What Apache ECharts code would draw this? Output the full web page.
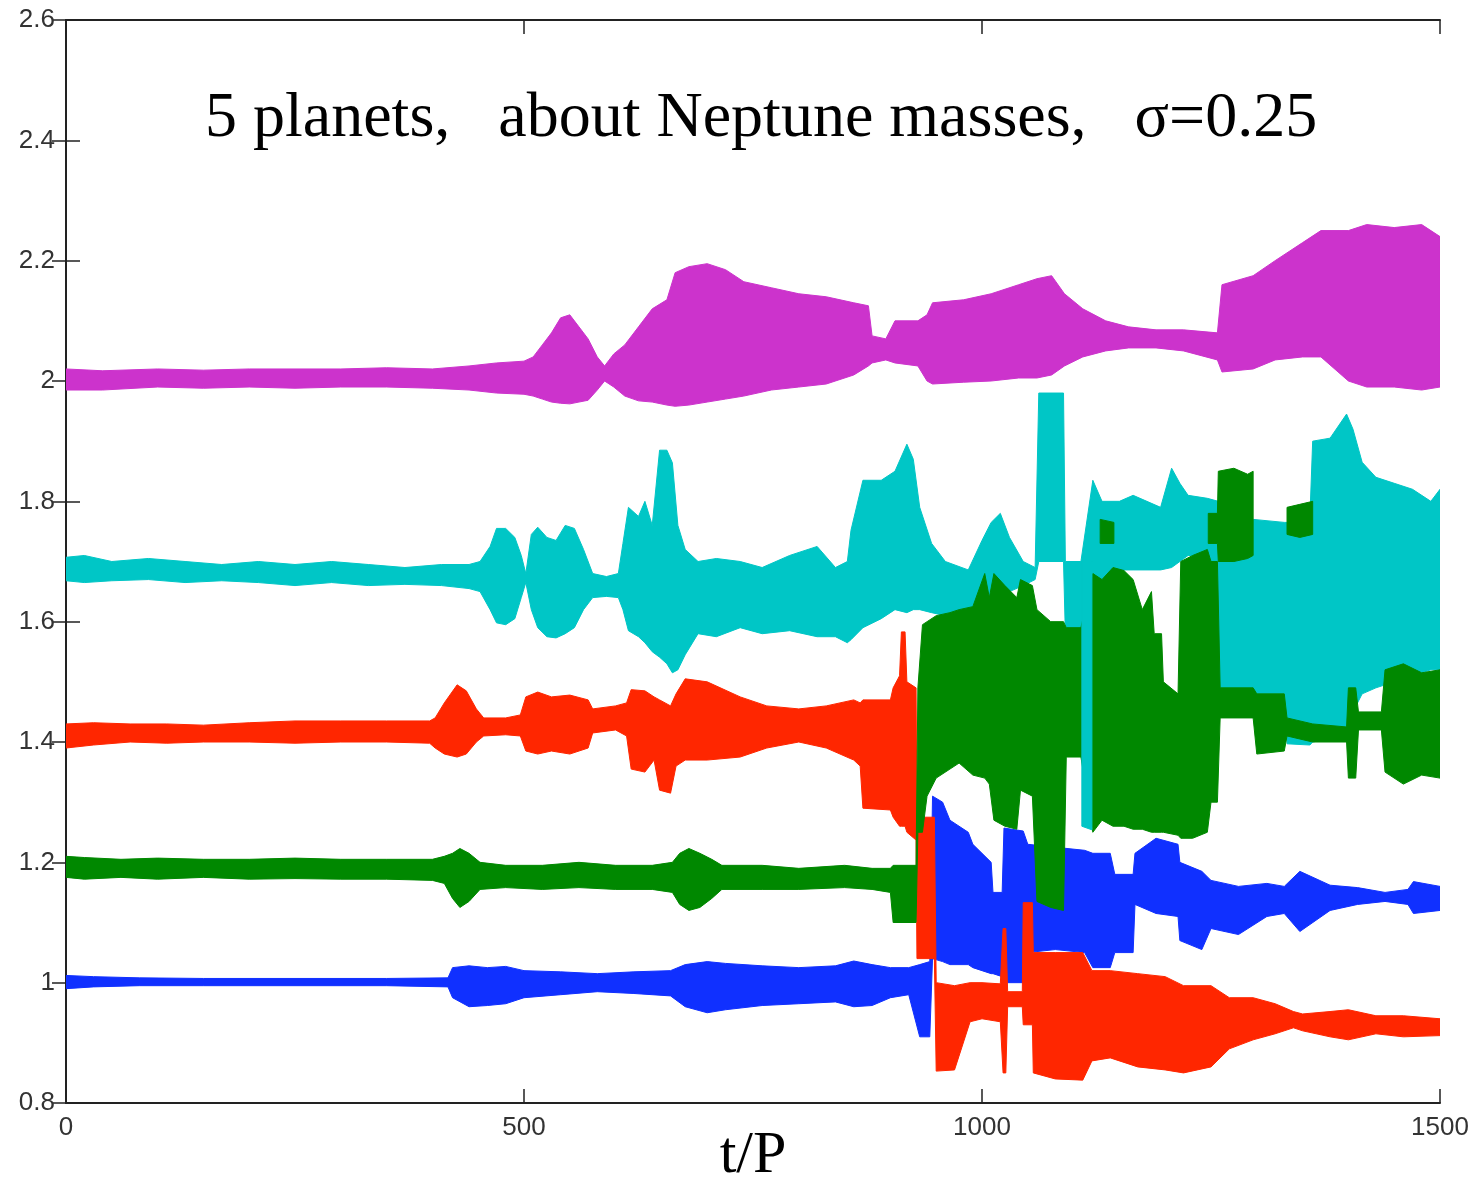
<!DOCTYPE html>
<html>
<head>
<meta charset="utf-8">
<script src="https://cdn.jsdelivr.net/npm/echarts@6/dist/echarts.min.js"></script>
<style>
  html, body { margin: 0; padding: 0; background: #ffffff; }
  #chart { width: 1482px; height: 1180px; }
</style>
</head>
<body>
<div id="chart"></div>
<script>
// Axis ticks
const xTickValues = [0, 500, 1000, 1500];
const yTickLabels = ['0.8', '1', '1.2', '1.4', '1.6', '1.8', '2', '2.2', '2.4', '2.6'];

// Oscillation envelopes of the period ratio of each planet: [t/P, lower, upper]
const purpleBand = [
  [0, 1.985, 2.02], [40, 1.985, 2.017], [100, 1.99, 2.02], [150, 1.988, 2.018], [200, 1.99, 2.02],
  [250, 1.988, 2.02], [300, 1.99, 2.02], [350, 1.99, 2.022], [400, 1.988, 2.02], [440, 1.985, 2.025],
  [470, 1.98, 2.03], [500, 1.978, 2.033], [510, 1.975, 2.04], [520, 1.97, 2.06], [530, 1.965, 2.08],
  [540, 1.963, 2.105], [550, 1.962, 2.11], [560, 1.965, 2.09], [570, 1.968, 2.07], [580, 1.985, 2.04],
  [588, 2.0, 2.025], [598, 1.99, 2.045], [610, 1.975, 2.06], [625, 1.967, 2.09], [640, 1.965, 2.12],
  [656, 1.96, 2.135], [665, 1.958, 2.18], [680, 1.96, 2.19], [700, 1.965, 2.195], [720, 1.97, 2.185],
  [740, 1.975, 2.165], [770, 1.985, 2.155], [800, 1.99, 2.145], [830, 1.995, 2.14], [860, 2.01, 2.13],
  [876, 2.025, 2.125], [880, 2.03, 2.075], [895, 2.035, 2.07], [905, 2.03, 2.1], [930, 2.025, 2.1],
  [940, 2.0, 2.11], [946, 1.995, 2.13], [980, 1.998, 2.135], [1010, 2.0, 2.145], [1040, 2.005, 2.16],
  [1060, 2.005, 2.17], [1076, 2.01, 2.175], [1090, 2.025, 2.145], [1110, 2.04, 2.12], [1135, 2.05, 2.1],
  [1160, 2.055, 2.09], [1190, 2.055, 2.085], [1220, 2.05, 2.085], [1257, 2.035, 2.08], [1262, 2.015, 2.16],
  [1296, 2.02, 2.175], [1320, 2.035, 2.2], [1350, 2.04, 2.23], [1370, 2.04, 2.25], [1400, 2.0, 2.25],
  [1420, 1.99, 2.26], [1450, 1.99, 2.255], [1480, 1.985, 2.26], [1500, 1.99, 2.24]
];

const cyanBand = [
  [0, 1.668, 1.707], [20, 1.665, 1.71], [50, 1.668, 1.7], [90, 1.67, 1.705], [130, 1.665, 1.7],
  [170, 1.668, 1.695], [210, 1.665, 1.7], [250, 1.66, 1.695], [290, 1.665, 1.7], [330, 1.66, 1.695],
  [370, 1.662, 1.69], [410, 1.66, 1.695], [440, 1.655, 1.695], [452, 1.65, 1.7], [463, 1.62, 1.725],
  [470, 1.598, 1.755], [480, 1.595, 1.755], [490, 1.605, 1.74], [497, 1.64, 1.71], [502, 1.665, 1.68],
  [508, 1.62, 1.745], [515, 1.59, 1.757], [525, 1.575, 1.74], [535, 1.573, 1.735], [545, 1.58, 1.76],
  [555, 1.59, 1.755], [565, 1.62, 1.72], [575, 1.64, 1.68], [590, 1.642, 1.675], [603, 1.64, 1.68],
  [608, 1.62, 1.73], [614, 1.585, 1.79], [625, 1.575, 1.775], [632, 1.565, 1.8], [640, 1.55, 1.76],
  [648, 1.541, 1.885], [656, 1.53, 1.885], [662, 1.515, 1.864], [668, 1.52, 1.76], [676, 1.545, 1.72],
  [690, 1.58, 1.7], [710, 1.575, 1.705], [736, 1.59, 1.7], [760, 1.58, 1.69], [790, 1.585, 1.71],
  [820, 1.575, 1.725], [840, 1.575, 1.69], [853, 1.565, 1.7], [857, 1.57, 1.752], [870, 1.59, 1.835],
  [890, 1.605, 1.835], [905, 1.62, 1.85], [918, 1.615, 1.895], [925, 1.62, 1.87], [932, 1.62, 1.79],
  [945, 1.615, 1.73], [960, 1.61, 1.7], [985, 1.62, 1.686], [1000, 1.63, 1.735], [1010, 1.64, 1.765],
  [1020, 1.645, 1.78], [1030, 1.65, 1.74], [1045, 1.66, 1.7], [1058, 1.67, 1.69], [1062, 1.7, 1.98],
  [1089, 1.7, 1.98], [1091, 1.58, 1.7], [1108, 1.58, 1.7], [1121, 1.66, 1.835], [1131, 1.67, 1.8],
  [1150, 1.686, 1.8], [1165, 1.686, 1.81], [1195, 1.686, 1.79], [1207, 1.69, 1.855], [1216, 1.7, 1.83],
  [1225, 1.71, 1.81], [1246, 1.71, 1.805], [1258, 1.49, 1.8], [1296, 1.48, 1.77], [1330, 1.48, 1.765],
  [1333, 1.397, 1.765], [1358, 1.395, 1.775], [1361, 1.4, 1.9], [1380, 1.405, 1.905], [1398, 1.41, 1.945],
  [1405, 1.45, 1.92], [1415, 1.48, 1.865], [1430, 1.49, 1.84], [1450, 1.5, 1.83], [1470, 1.51, 1.82],
  [1490, 1.52, 1.8], [1500, 1.52, 1.82]
];

const blueBand = [
  [0, 0.99, 1.012], [30, 0.993, 1.01], [80, 0.995, 1.008], [150, 0.995, 1.007], [250, 0.995, 1.007],
  [350, 0.995, 1.007], [417, 0.993, 1.008], [422, 0.975, 1.025], [440, 0.96, 1.028], [460, 0.962, 1.025],
  [480, 0.965, 1.027], [500, 0.975, 1.02], [540, 0.98, 1.018], [580, 0.985, 1.015], [620, 0.982, 1.018],
  [660, 0.978, 1.02], [676, 0.96, 1.03], [700, 0.95, 1.035], [720, 0.955, 1.032], [760, 0.962, 1.028],
  [800, 0.965, 1.025], [840, 0.968, 1.028], [860, 0.96, 1.036], [880, 0.962, 1.03], [900, 0.975, 1.025],
  [920, 0.98, 1.025], [932, 0.91, 1.03], [943, 0.91, 1.035], [946, 1.04, 1.31], [957, 1.035, 1.3],
  [965, 1.03, 1.27], [985, 1.03, 1.25], [990, 1.025, 1.23], [1010, 1.015, 1.2], [1012, 1.015, 1.15],
  [1022, 1.01, 1.15], [1024, 1.0, 1.257], [1045, 1.0, 1.252], [1050, 1.05, 1.23], [1080, 1.055, 1.225],
  [1112, 1.05, 1.22], [1121, 1.025, 1.215], [1140, 1.025, 1.215], [1145, 1.05, 1.18], [1165, 1.05, 1.18],
  [1167, 1.13, 1.215], [1190, 1.115, 1.24], [1214, 1.11, 1.23], [1216, 1.07, 1.2], [1240, 1.055, 1.185],
  [1250, 1.09, 1.17], [1280, 1.08, 1.16], [1311, 1.11, 1.165], [1330, 1.115, 1.16], [1347, 1.085, 1.185],
  [1380, 1.12, 1.162], [1410, 1.13, 1.158], [1440, 1.135, 1.15], [1465, 1.13, 1.155], [1471, 1.115, 1.168],
  [1500, 1.12, 1.16]
];

const redBand = [
  [0, 1.39, 1.43], [30, 1.395, 1.432], [70, 1.4, 1.43], [110, 1.398, 1.43], [150, 1.4, 1.428],
  [200, 1.4, 1.432], [250, 1.398, 1.435], [300, 1.4, 1.435], [350, 1.4, 1.435], [397, 1.398, 1.435],
  [403, 1.39, 1.44], [413, 1.38, 1.465], [427, 1.375, 1.495], [437, 1.38, 1.485], [448, 1.4, 1.455],
  [456, 1.41, 1.44], [480, 1.412, 1.44], [496, 1.41, 1.445], [502, 1.385, 1.475], [515, 1.38, 1.483],
  [530, 1.385, 1.475], [550, 1.38, 1.478], [570, 1.39, 1.47], [575, 1.415, 1.455], [600, 1.42, 1.46],
  [612, 1.41, 1.465], [617, 1.355, 1.487], [632, 1.35, 1.485], [642, 1.37, 1.475], [648, 1.32, 1.47],
  [660, 1.315, 1.46], [666, 1.36, 1.48], [676, 1.37, 1.505], [700, 1.37, 1.5], [736, 1.375, 1.475],
  [765, 1.39, 1.46], [800, 1.4, 1.455], [830, 1.39, 1.46], [860, 1.37, 1.47], [867, 1.36, 1.465],
  [870, 1.29, 1.47], [900, 1.287, 1.47], [903, 1.275, 1.49], [910, 1.26, 1.51], [912, 1.26, 1.583],
  [916, 1.26, 1.583], [918, 1.25, 1.5], [928, 1.237, 1.49], [929, 1.04, 1.275], [948, 1.04, 1.275],
  [950, 0.853, 1.0], [970, 0.855, 0.995], [987, 0.935, 1.0], [1000, 0.94, 1.0], [1020, 0.935, 0.998],
  [1023, 0.85, 1.09], [1026, 0.85, 1.09], [1028, 0.96, 0.985], [1044, 0.96, 0.985], [1045, 0.93, 1.133],
  [1055, 0.93, 1.133], [1056, 0.85, 1.05], [1080, 0.84, 1.05], [1110, 0.838, 1.05], [1120, 0.87, 1.02],
  [1140, 0.875, 1.02], [1170, 0.86, 1.015], [1200, 0.855, 1.01], [1220, 0.85, 0.995], [1250, 0.86, 0.995],
  [1270, 0.89, 0.975], [1296, 0.905, 0.975], [1320, 0.915, 0.965], [1340, 0.925, 0.952], [1350, 0.92, 0.948],
  [1380, 0.91, 0.952], [1400, 0.905, 0.955], [1430, 0.915, 0.945], [1460, 0.91, 0.945], [1500, 0.912, 0.94]
];

const greenBand = [
  [0, 1.175, 1.21], [20, 1.172, 1.208], [60, 1.175, 1.205], [100, 1.172, 1.207], [150, 1.175, 1.205],
  [200, 1.172, 1.205], [250, 1.173, 1.207], [300, 1.172, 1.205], [350, 1.172, 1.205], [400, 1.17, 1.205],
  [413, 1.165, 1.21], [422, 1.14, 1.215], [430, 1.125, 1.223], [440, 1.135, 1.215], [452, 1.155, 1.2],
  [480, 1.158, 1.195], [520, 1.155, 1.195], [560, 1.158, 1.2], [600, 1.155, 1.195], [640, 1.155, 1.195],
  [662, 1.15, 1.2], [670, 1.13, 1.215], [680, 1.12, 1.223], [692, 1.125, 1.215], [705, 1.14, 1.205],
  [716, 1.155, 1.195], [760, 1.155, 1.195], [800, 1.155, 1.19], [850, 1.158, 1.195], [880, 1.155, 1.19],
  [900, 1.15, 1.19], [903, 1.1, 1.195], [928, 1.1, 1.195], [930, 1.25, 1.49], [935, 1.25, 1.595],
  [940, 1.31, 1.6], [950, 1.34, 1.61], [965, 1.355, 1.615], [975, 1.365, 1.62], [990, 1.345, 1.625],
  [1003, 1.34, 1.68], [1008, 1.33, 1.64], [1013, 1.27, 1.68], [1025, 1.26, 1.66], [1038, 1.255, 1.64],
  [1042, 1.32, 1.67], [1055, 1.31, 1.66], [1060, 1.135, 1.62], [1075, 1.125, 1.6], [1089, 1.12, 1.6],
  [1092, 1.375, 1.59], [1108, 1.375, 1.59], [1121, 1.25, 1.68], [1131, 1.27, 1.67], [1143, 1.26, 1.69],
  [1155, 1.26, 1.685], [1165, 1.255, 1.67], [1175, 1.255, 1.62], [1185, 1.25, 1.65], [1188, 1.25, 1.58],
  [1196, 1.25, 1.58], [1198, 1.25, 1.5], [1214, 1.245, 1.48], [1217, 1.24, 1.7], [1230, 1.24, 1.71],
  [1246, 1.25, 1.72], [1250, 1.3, 1.7], [1257, 1.3, 1.7], [1260, 1.44, 1.49], [1296, 1.44, 1.49],
  [1300, 1.38, 1.48], [1330, 1.385, 1.48], [1333, 1.41, 1.44], [1361, 1.4, 1.43], [1398, 1.4, 1.425],
  [1400, 1.34, 1.49], [1408, 1.34, 1.49], [1411, 1.42, 1.45], [1436, 1.42, 1.45], [1440, 1.35, 1.52],
  [1460, 1.33, 1.53], [1480, 1.345, 1.515], [1500, 1.34, 1.52]
];

// Short excursions of the green planet above the cyan band
const greenPatchA = [[1129, 1.73, 1.77], [1144, 1.73, 1.765]];
const greenPatchB = [[1247, 1.73, 1.78], [1257, 1.73, 1.78], [1258, 1.7, 1.85], [1275, 1.7, 1.855], [1290, 1.705, 1.845], [1296, 1.71, 1.85]];
const greenPatchC = [[1333, 1.745, 1.79], [1347, 1.74, 1.795], [1361, 1.745, 1.8]];
// Deep inward swing of the cyan planet
const cyanStrip = [[1109, 1.26, 1.7], [1120, 1.254, 1.7]];

const PURPLE = '#cc33cc', CYAN = '#00c6c6', BLUE = '#1030ff', RED = '#ff2600', GREEN = '#008800';

// Painted bottom to top
const bands = [
  { color: PURPLE, data: purpleBand },
  { color: CYAN, data: cyanBand },
  { color: BLUE, data: blueBand },
  { color: RED, data: redBand },
  { color: GREEN, data: greenBand },
  { color: GREEN, data: greenPatchA },
  { color: GREEN, data: greenPatchB },
  { color: GREEN, data: greenPatchC },
  { color: CYAN, data: cyanStrip }
];

// Each envelope is one filled polygon: upper edge forward, lower edge back
const series = bands.map((b, i) => ({
  type: 'custom',
  silent: true,
  clip: true,
  z: 2 + i,
  data: b.data,
  encode: { x: 0, y: [1, 2] },
  renderItem: (params, api) => {
    if (params.dataIndex !== 0) return null;
    const upper = b.data.map(d => api.coord([d[0], d[2]]));
    const lower = b.data.map(d => api.coord([d[0], d[1]])).reverse();
    return {
      type: 'polygon',
      shape: { points: upper.concat(lower) },
      style: { fill: b.color, stroke: b.color, lineWidth: 1 }
    };
  }
}));

const AXIS = '#222222';
const SERIF = 'Liberation Serif, Times New Roman, serif';
const labelFont = { fontFamily: 'Liberation Sans, Arial, sans-serif', fontSize: 26, color: '#333333' };

const chart = echarts.init(document.getElementById('chart'), null, { renderer: 'canvas' });
chart.setOption({
  animation: false,
  backgroundColor: '#ffffff',
  title: {
    text: '5 planets,   about Neptune masses,   \u03c3=0.25',
    left: 200, top: 82,
    textStyle: { fontFamily: SERIF, fontSize: 64, fontWeight: 'normal', color: '#000000' }
  },
  // horizontal axis title
  graphic: [{
    type: 'text', x: 753, y: 1156, silent: true,
    style: { text: 't/P', font: '60px ' + SERIF, fill: '#000000', textAlign: 'center', textVerticalAlign: 'middle' }
  }],
  grid: { left: 66, right: 42, top: 20, bottom: 77, containLabel: false, outerBoundsMode: 'none' },
  xAxis: [
    {
      type: 'value', min: xTickValues[0], max: xTickValues[xTickValues.length - 1], interval: 500,
      position: 'bottom',
      axisLine: { show: true, lineStyle: { color: AXIS, width: 2 } },
      axisTick: { show: true, inside: true, length: 14, lineStyle: { color: AXIS, width: 1.5 } },
      axisLabel: Object.assign({ margin: 12, formatter: v => String(v) }, labelFont),
      splitLine: { show: false }
    },
    {
      type: 'value', min: 0, max: 1500, interval: 500, position: 'top',
      axisLine: { show: true, lineStyle: { color: AXIS, width: 2 } },
      axisTick: { show: true, inside: true, length: 14, lineStyle: { color: AXIS, width: 1.5 } },
      axisLabel: { show: false },
      splitLine: { show: false }
    }
  ],
  yAxis: [
    {
      type: 'value', min: 0.8, max: 2.6, interval: 0.2, position: 'left',
      axisLine: { show: true, lineStyle: { color: AXIS, width: 2 } },
      axisTick: { show: true, inside: true, length: 14, lineStyle: { color: AXIS, width: 1.5 } },
      axisLabel: Object.assign({ margin: 11, formatter: v => yTickLabels[Math.round((v - 0.8) / 0.2)] }, labelFont),
      splitLine: { show: false }
    },
    {
      type: 'value', min: 0.8, max: 2.6, interval: 0.2, position: 'right',
      axisLine: { show: true, lineStyle: { color: AXIS, width: 2 } },
      axisTick: { show: true, inside: true, length: 14, lineStyle: { color: AXIS, width: 1.5 } },
      axisLabel: { show: false },
      splitLine: { show: false }
    }
  ],
  series: series
});
</script>
</body>
</html>
